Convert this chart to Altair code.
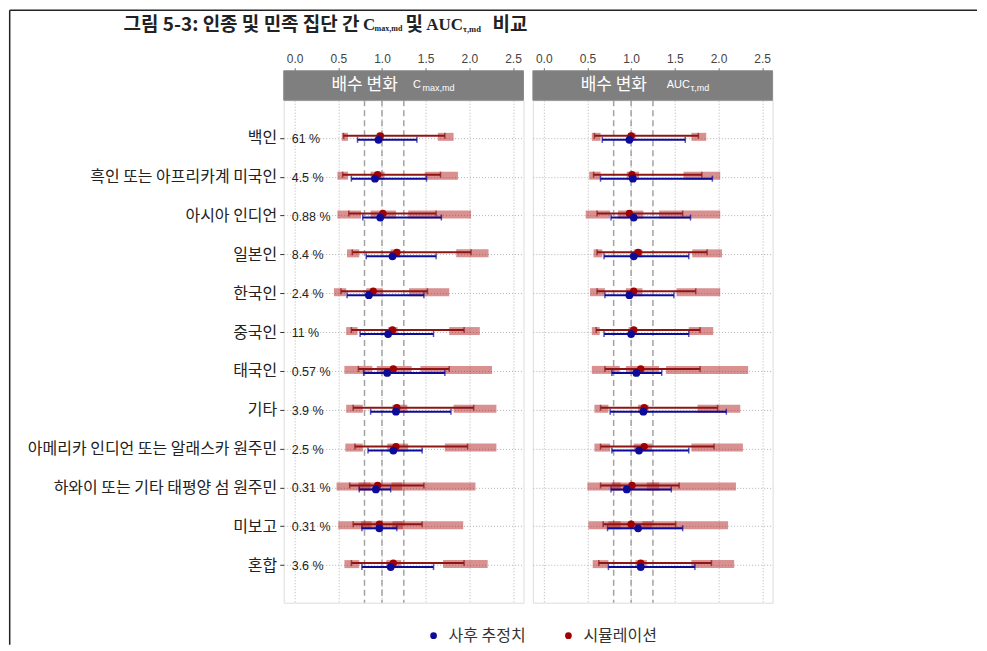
import altair as alt
import pandas as pd

groups = ["백인", "흑인 또는 아프리카계 미국인", "아시아 인디언", "일본인", "한국인", "중국인",
          "태국인", "기타", "아메리카 인디언 또는 알래스카 원주민", "하와이 또는 기타 태평양 섬 원주민",
          "미보고", "혼합"]
pct_labels = ["61 %", "4.5 %", "0.88 %", "8.4 %", "2.4 %", "11 %", "0.57 %", "3.9 %",
              "2.5 %", "0.31 %", "0.31 %", "3.6 %"]
series_names = ["사후 추정치", "시뮬레이션"]
x_ticks = [0.0, 0.5, 1.0, 1.5, 2.0, 2.5]
ref_lines = [0.8, 1.0, 1.25]

# C_max,md panel
cmax_sim_est = [0.98, 0.95, 1.01, 1.17, 0.90, 1.12, 1.13, 1.17, 1.16, 0.95, 0.97, 1.13]
cmax_sim_lo = [0.56, 0.55, 0.62, 0.66, 0.53, 0.65, 0.73, 0.67, 0.69, 0.63, 0.67, 0.65]
cmax_sim_hi = [1.72, 1.67, 1.62, 2.02, 1.52, 1.94, 1.77, 2.05, 1.98, 1.48, 1.46, 1.94]
cmax_obs_est = [0.96, 0.92, 0.98, 1.12, 0.85, 1.07, 1.06, 1.16, 1.13, 0.93, 0.97, 1.10]
cmax_obs_lo = [0.72, 0.65, 0.78, 0.82, 0.60, 0.75, 0.79, 0.87, 0.84, 0.74, 0.77, 0.77]
cmax_obs_hi = [1.40, 1.51, 1.68, 1.62, 1.48, 1.59, 1.72, 1.79, 1.46, 1.10, 1.17, 1.59]
cmax_p5_band = [(0.54, 0.61), (0.49, 0.61), (0.49, 0.76), (0.60, 0.74), (0.45, 0.59), (0.59, 0.72),
                (0.57, 0.89), (0.59, 0.78), (0.58, 0.78), (0.48, 0.87), (0.50, 0.88), (0.57, 0.74)]
cmax_p50_band = [(0.94, 1.02), (0.87, 1.03), (0.87, 1.16), (1.10, 1.21), (0.82, 1.01), (1.07, 1.18),
                 (0.94, 1.34), (1.12, 1.29), (1.06, 1.30), (0.73, 1.23), (0.76, 1.24), (1.05, 1.22)]
cmax_p95_band = [(1.64, 1.82), (1.49, 1.87), (1.30, 2.02), (1.85, 2.22), (1.31, 1.77), (1.77, 2.12),
                 (1.44, 2.26), (1.82, 2.31), (1.72, 2.31), (1.11, 2.07), (1.12, 1.93), (1.70, 2.21)]

# AUC_tau,md panel
auc_sim_est = [1.00, 1.01, 0.98, 1.08, 1.03, 1.03, 1.11, 1.15, 1.15, 1.01, 1.00, 1.11]
auc_sim_lo = [0.58, 0.57, 0.61, 0.61, 0.61, 0.60, 0.70, 0.65, 0.65, 0.65, 0.68, 0.63]
auc_sim_hi = [1.77, 1.81, 1.59, 1.87, 1.74, 1.79, 1.79, 1.99, 1.95, 1.55, 1.51, 1.92]
auc_obs_est = [0.98, 1.02, 1.03, 1.03, 0.98, 1.00, 1.06, 1.14, 1.09, 0.95, 1.08, 1.11]
auc_obs_lo = [0.67, 0.65, 0.77, 0.69, 0.70, 0.69, 0.78, 0.76, 0.78, 0.77, 0.73, 0.74]
auc_obs_hi = [1.62, 1.93, 1.68, 1.66, 1.49, 1.66, 1.35, 2.09, 1.66, 1.46, 1.59, 1.73]
auc_p5_band = [(0.55, 0.65), (0.52, 0.65), (0.48, 0.76), (0.57, 0.67), (0.53, 0.70), (0.55, 0.64),
               (0.55, 0.87), (0.58, 0.74), (0.58, 0.76), (0.50, 0.88), (0.51, 0.88), (0.56, 0.74)]
auc_p50_band = [(0.97, 1.05), (0.95, 1.09), (0.85, 1.14), (1.03, 1.13), (0.94, 1.13), (0.97, 1.07),
                (0.94, 1.32), (1.08, 1.20), (1.03, 1.24), (0.78, 1.32), (0.74, 1.24), (1.05, 1.18)]
auc_p95_band = [(1.69, 1.86), (1.60, 2.02), (1.32, 2.02), (1.70, 2.04), (1.52, 2.02), (1.66, 1.94),
                (1.40, 2.34), (1.76, 2.25), (1.69, 2.28), (1.18, 2.20), (1.13, 2.11), (1.69, 2.18)]

W = 240
H = 503
STRIP = 29.5
BLUE = "#0c0c96"
RED = "#a00000"
RED_LINE = "#8f1414"
KFONT = "Noto Sans CJK KR"
LFONT = "Liberation Sans"
SFONT = "Liberation Serif"

dummy = pd.DataFrame({"d": [0]})

xscale = alt.Scale(domain=[-0.125, 2.62], nice=False, zero=False)
xaxis = alt.Axis(orient="top", offset=STRIP, values=x_ticks, format=".1f", title=None,
                 domain=False, ticks=True, tickSize=3, tickColor="#666", labelPadding=2,
                 labelFont=LFONT, labelFontSize=12, labelColor="#444",
                 grid=True, gridDash=[1, 2], gridColor="#b4b4b4", gridWidth=1)
color_scale = alt.Scale(domain=series_names, range=[BLUE, RED])
color_legend = alt.Legend(title=None, orient="none", direction="horizontal",
                          legendX=142, legendY=528, symbolType="circle",
                          symbolSize=45, labelFont=KFONT, labelFontSize=16,
                          labelColor="#333", labelOffset=7, columnPadding=34)


def label(text, x, y, size, font, color="#222", weight="normal", align="left"):
    return alt.Chart(dummy).mark_text(text=text, align=align, baseline="middle",
                                      fontSize=size, font=font, color=color,
                                      fontWeight=weight).encode(x=alt.value(x), y=alt.value(y))


def panel(sim_est, sim_lo, sim_hi, obs_est, obs_lo, obs_hi, p5, p50, p95,
          main_label, sub_label, main_x, sub_x, left):
    df = pd.DataFrame({
        "group": groups, "pct": pct_labels,
        "sim_est": sim_est, "sim_lo": sim_lo, "sim_hi": sim_hi,
        "obs_est": obs_est, "obs_lo": obs_lo, "obs_hi": obs_hi,
        "sim_name": series_names[1], "obs_name": series_names[0],
    })
    band_rows = []
    for bands in (p5, p50, p95):
        for g, (a, b) in zip(groups, bands):
            band_rows.append({"group": g, "a": a, "b": b})
    bdf = pd.DataFrame(band_rows)

    if left:
        yaxis = alt.Axis(title=None, domain=False, ticks=True, tickSize=4, tickColor="#333",
                         labelPadding=3, labelFont=KFONT, labelFontSize=16,
                         labelColor="#222", labelLimit=400,
                         grid=True, gridDash=[1, 2], gridColor="#b4b4b4")
    else:
        yaxis = alt.Axis(title=None, domain=False, ticks=False, labels=False,
                         grid=True, gridDash=[1, 2], gridColor="#b4b4b4")
    yenc = alt.Y("group:N", sort=groups, scale=alt.Scale(type="point", padding=0.968),
                 axis=yaxis)

    refs = alt.Chart(pd.DataFrame({"v": ref_lines})).mark_rule(
        strokeDash=[6, 4], color="#a3a3a3", strokeWidth=1.5).encode(
        x=alt.X("v:Q", scale=xscale, axis=xaxis))

    bands_l = alt.Chart(bdf).mark_rule(strokeWidth=8, color="#b22222", opacity=0.5,
                                       yOffset=-1).encode(
        x=alt.X("a:Q", scale=xscale, axis=xaxis), x2="b:Q", y=yenc)

    base = alt.Chart(df)
    sim_line = base.mark_rule(color=RED_LINE, strokeWidth=2, yOffset=-2).encode(
        x=alt.X("sim_lo:Q", scale=xscale, axis=xaxis), x2="sim_hi:Q", y=yenc)
    sim_cap_l = base.mark_tick(color=RED_LINE, orient="vertical", size=6, thickness=1.5,
                               yOffset=-2).encode(x=alt.X("sim_lo:Q", scale=xscale, axis=xaxis), y=yenc)
    sim_cap_r = base.mark_tick(color=RED_LINE, orient="vertical", size=6, thickness=1.5,
                               yOffset=-2).encode(x=alt.X("sim_hi:Q", scale=xscale, axis=xaxis), y=yenc)
    sim_pt = base.mark_point(filled=True, shape="circle", size=55, opacity=1,
                             yOffset=-2).encode(
        x=alt.X("sim_est:Q", scale=xscale, axis=xaxis), y=yenc,
        color=alt.Color("sim_name:N", scale=color_scale, legend=color_legend))

    obs_line = base.mark_rule(color=BLUE, strokeWidth=2, yOffset=2).encode(
        x=alt.X("obs_lo:Q", scale=xscale, axis=xaxis), x2="obs_hi:Q", y=yenc)
    obs_cap_l = base.mark_tick(color=BLUE, orient="vertical", size=6, thickness=1.5,
                               yOffset=2).encode(x=alt.X("obs_lo:Q", scale=xscale, axis=xaxis), y=yenc)
    obs_cap_r = base.mark_tick(color=BLUE, orient="vertical", size=6, thickness=1.5,
                               yOffset=2).encode(x=alt.X("obs_hi:Q", scale=xscale, axis=xaxis), y=yenc)
    obs_pt = base.mark_point(filled=True, shape="circle", size=60, opacity=1,
                             yOffset=2).encode(
        x=alt.X("obs_est:Q", scale=xscale, axis=xaxis), y=yenc,
        color=alt.Color("obs_name:N", scale=color_scale, legend=color_legend))

    strip = alt.Chart(dummy).mark_rect(color="#7f7f7f", stroke="#8a8a8a", strokeWidth=1).encode(
        x=alt.value(0), x2=alt.value(W), y=alt.value(-STRIP), y2=alt.value(0))
    strip_main = label("배수 변화", 81, -STRIP / 2, 17, KFONT, color="white", align="center")
    strip_a = label(main_label, main_x, -STRIP / 2, 11, LFONT, color="white")
    strip_b = label(sub_label, sub_x, -STRIP / 2 + 3, 9, LFONT, color="white")

    layers = [refs, bands_l, sim_line, sim_cap_l, sim_cap_r, sim_pt,
              obs_line, obs_cap_l, obs_cap_r, obs_pt, strip, strip_main, strip_a, strip_b]

    if left:
        pct = base.mark_text(align="left", baseline="middle", fontSize=12.5, font=LFONT,
                             color="#222", dy=1).encode(x=alt.value(8), y=yenc, text="pct:N")
        layers.append(pct)
        # outer frame (left and top edges)
        fx0, fy0 = -274.3, -90
        layers.append(alt.Chart(dummy).mark_rule(color="#222", strokeWidth=1.5).encode(
            x=alt.value(fx0), y=alt.value(fy0), y2=alt.value(545)))
        layers.append(alt.Chart(dummy).mark_rule(color="#222", strokeWidth=1.5).encode(
            x=alt.value(fx0), x2=alt.value(694), y=alt.value(fy0)))
        # title pieces
        ty = -75
        layers += [
            label("그림 5-3: 인종 및 민족 집단 간", -160.3, ty, 19, KFONT, weight="bold"),
            label("C", 79.4, ty, 17, SFONT, weight="bold"),
            label("max,md", 91, ty + 4, 8, SFONT, weight="bold"),
            label("및", 122, ty, 19, KFONT, weight="bold"),
            label("AUC", 142.7, ty, 17, SFONT, weight="bold"),
            label("τ,md", 179.5, ty + 4, 8.5, SFONT, weight="bold"),
            label("비교", 209, ty, 19, KFONT, weight="bold"),
        ]

    return alt.layer(*layers).properties(width=W, height=H)


left = panel(cmax_sim_est, cmax_sim_lo, cmax_sim_hi, cmax_obs_est, cmax_obs_lo, cmax_obs_hi,
             cmax_p5_band, cmax_p50_band, cmax_p95_band, "C", "max,md", 129.4, 139, True)
right = panel(auc_sim_est, auc_sim_lo, auc_sim_hi, auc_obs_est, auc_obs_lo, auc_obs_hi,
              auc_p5_band, auc_p50_band, auc_p95_band, "AUC", "τ,md", 134, 158, False)

chart = alt.hconcat(left, right, spacing=9.4, bounds="flush", padding=0).configure_view(
    stroke="#4d4d4d", strokeWidth=1.2).configure(background="white")

chart.save("out.html", embed_options={"renderer": "svg", "actions": False})
